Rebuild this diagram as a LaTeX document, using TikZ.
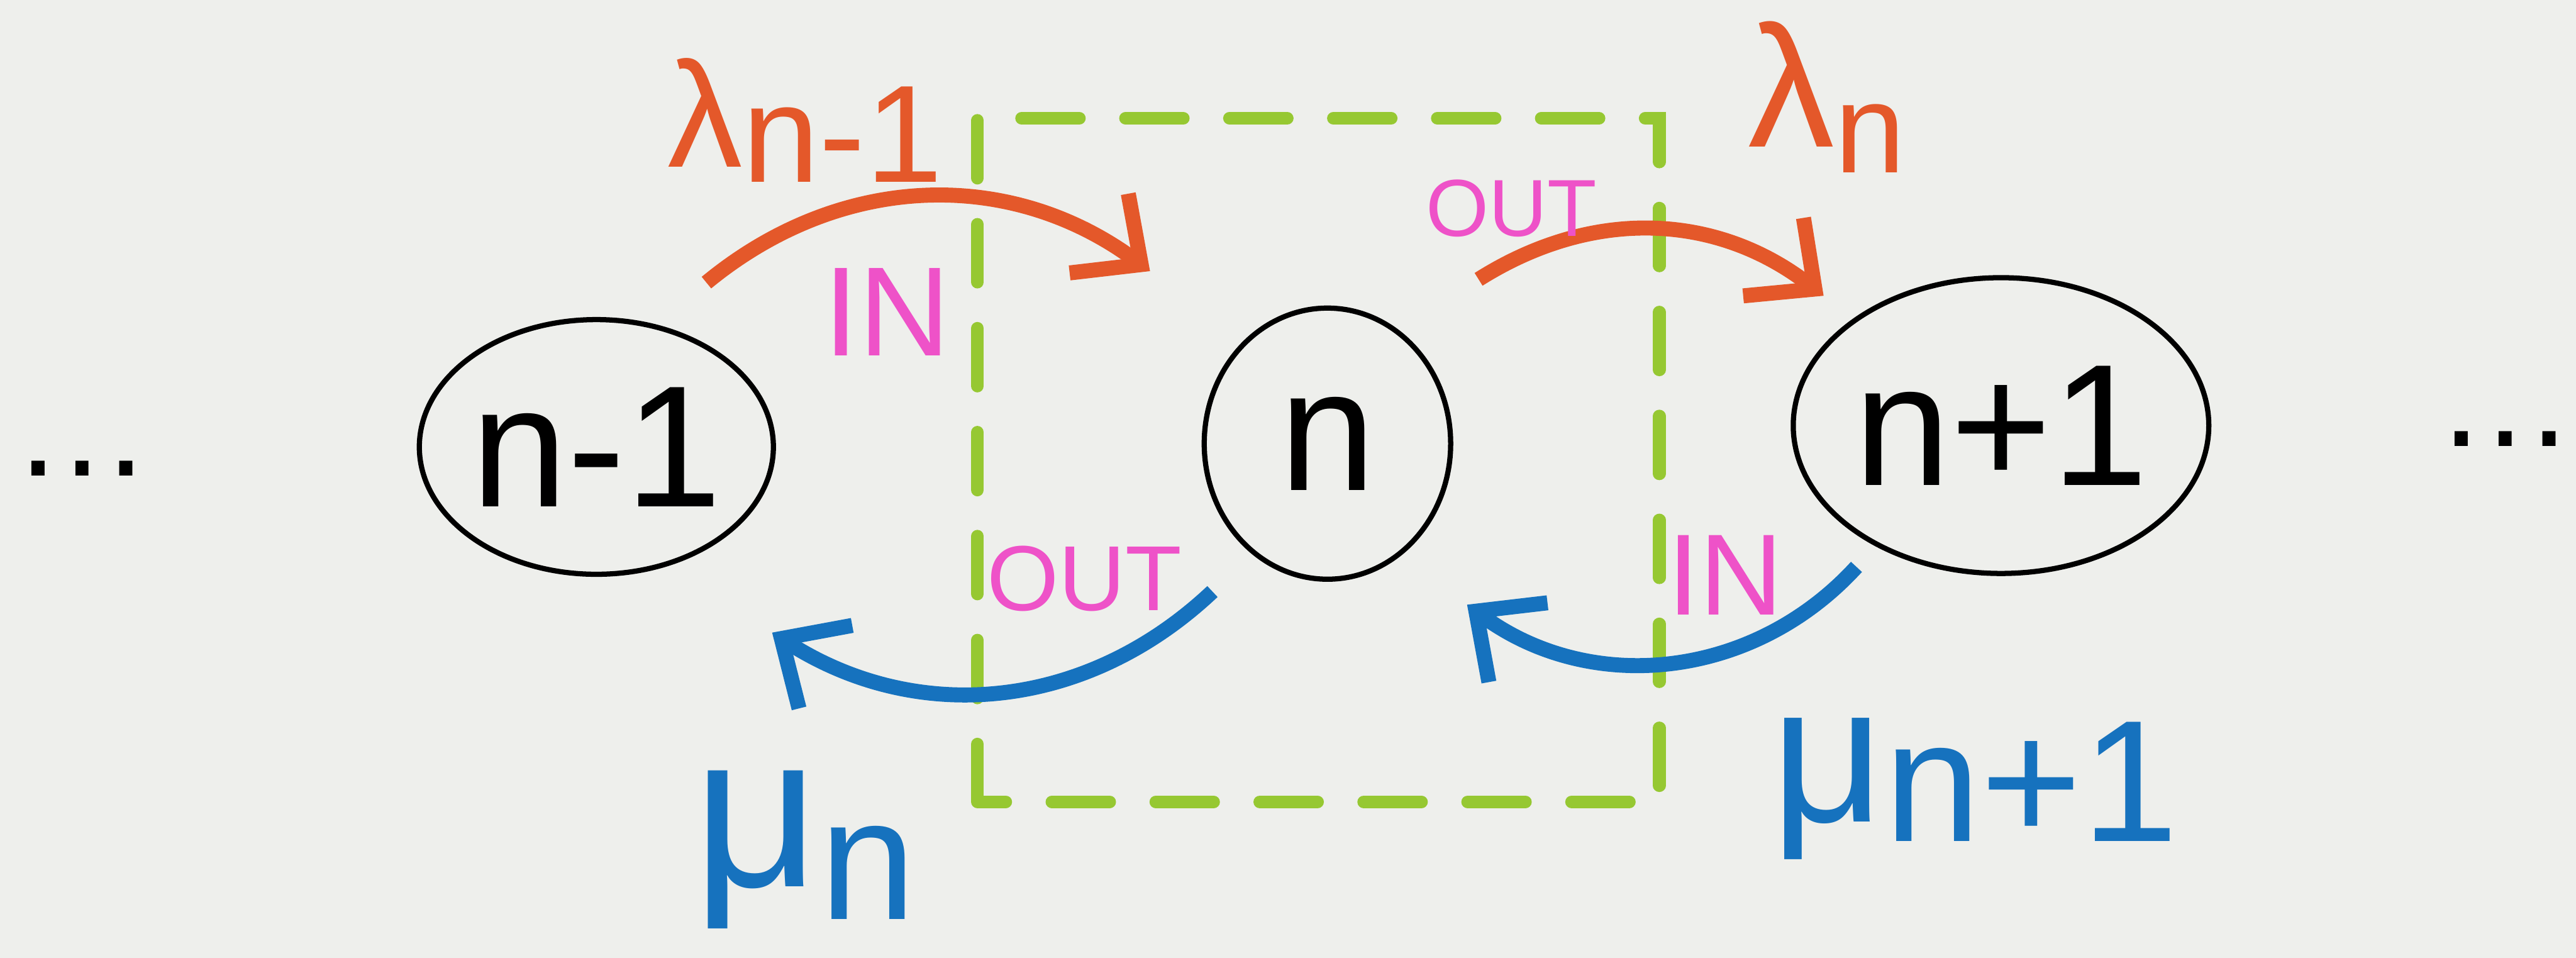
\documentclass[tikz,border=0pt]{standalone}
\usepackage{fontspec}
\setmainfont{Liberation Sans}
\usetikzlibrary{shapes.geometric,arrows.meta}
\definecolor{paper}{RGB}{238,239,236}
\definecolor{rateorange}{RGB}{228,88,42}
\definecolor{rateblue}{RGB}{22,114,190}
\definecolor{flowpink}{RGB}{238,82,200}
\definecolor{cutgreen}{RGB}{150,200,50}
\begin{document}
\begin{tikzpicture}[
        state/.style={ellipse, draw=black, line width=0.9pt, inner sep=0pt, font=\fontsize{30}{34}\selectfont},
        birth/.style={-{Straight Barb[length=3.2mm,width=6mm]}, line width=2.6pt, rateorange},
        death/.style={-{Straight Barb[length=3.2mm,width=6mm]}, line width=2.6pt, rateblue},
        flow/.style={text=flowpink},
        cut/.style={draw=cutgreen, line width=2.2pt, dash pattern=on 10pt off 8pt, line cap=round}
    ]
        \fill[paper] (0,0) rectangle (15.68,5.83);
        \useasboundingbox (0,0) rectangle (15.68,5.83);

        % boundary around state n
        \draw[cut] (5.95,0.95) rectangle (10.10,5.11);

        \node[state, minimum width=2.1cm, minimum height=1.55cm] (nm1) at (3.63,3.11) {n-1};
        \node[state, minimum width=1.5cm, minimum height=1.65cm] (n)   at (8.08,3.13) {n};
        \node[state, minimum width=2.4cm, minimum height=1.8cm]  (np1) at (12.18,3.24) {n+1};
        \node[font=\fontsize{24}{28}\selectfont] (ldots) at (0.5,2.98) {\dots};
        \node[font=\fontsize{24}{28}\selectfont] (rdots) at (15.25,3.16) {\dots};

        % arrow ends, off the states
        \coordinate (b1s) at (4.30,4.11);  \coordinate (b1e) at (7.00,4.18);
        \coordinate (b2s) at (9.00,4.13);  \coordinate (b2e) at (11.10,4.03);
        \coordinate (d1s) at (7.38,2.23);  \coordinate (d1e) at (4.70,1.98);
        \coordinate (d2s) at (11.30,2.38); \coordinate (d2e) at (8.93,2.15);

        \draw[birth] (b1s) to[bend left=38] (b1e);
        \draw[birth] (b2s) to[bend left=35] (b2e);
        \draw[death] (d1s) to[bend left=38] (d1e);
        \draw[death] (d2s) to[bend left=42] (d2e);

        \node[text=rateorange, font=\fontsize{26}{30}\selectfont] (lamnm1) at (4.9,5.1)
            {λ\raisebox{-0.1em}{\fontsize{24}{28}\selectfont n-1}};
        \node[text=rateorange, font=\fontsize{30}{34}\selectfont] (lamn) at (11.12,5.24)
            {λ\raisebox{-0.15em}{\fontsize{22}{26}\selectfont n}};
        \node[text=rateblue, font=\fontsize{38}{42}\selectfont] (mun) at (4.9,0.66)
            {μ\raisebox{-0.15em}{\fontsize{30}{34}\selectfont n}};
        \node[text=rateblue, font=\fontsize{34}{38}\selectfont] (munp1) at (12.02,1.03)
            {μ\raisebox{-0.1em}{\fontsize{30}{34}\selectfont n+1}};

        \node[flow, font=\fontsize{22}{26}\selectfont] (inl)  at (5.4,3.93)  {IN};
        \node[flow, font=\fontsize{14}{17}\selectfont] (outt) at (9.2,4.56)  {OUT};
        \node[flow, font=\fontsize{16}{19}\selectfont] (outb) at (6.6,2.31)  {OUT};
        \node[flow, font=\fontsize{20}{24}\selectfont] (inr)  at (10.5,2.33) {IN};
    \end{tikzpicture}
\end{document}
